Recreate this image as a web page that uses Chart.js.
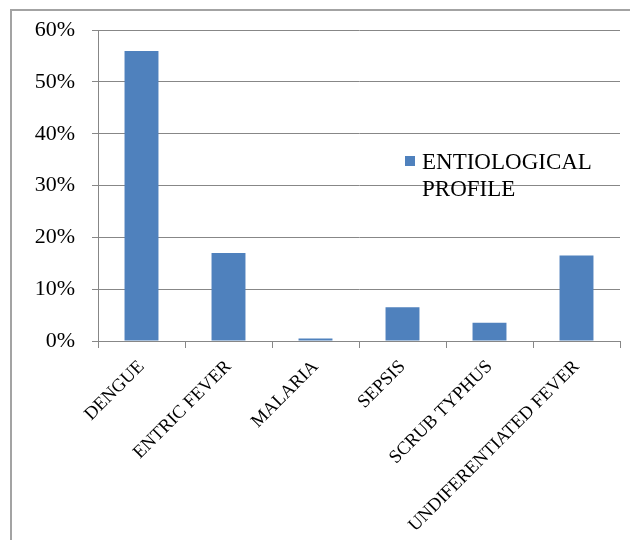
<!DOCTYPE html>
<html>
<head>
<meta charset="utf-8">
<script src="https://cdn.jsdelivr.net/npm/chart.js@4.4.1/dist/chart.umd.min.js"></script>
<style>
  html, body { margin: 0; padding: 0; background: #fff; overflow: hidden; }
  #wrap { position: relative; width: 630px; height: 540px; }
  #frame { position: absolute; left: 10px; top: 9px; width: 1000px; height: 1000px;
           border-left: 2px solid #a3a3a3; border-top: 2px solid #a3a3a3; box-sizing: border-box; }
  canvas { position: absolute; left: 0; top: 0; }
</style>
</head>
<body>
<div id="wrap">
  <div id="frame"></div>
  <canvas id="c" width="630" height="540"></canvas>
</div>
<script>
// Etiology of fever cases, share of patients (%)
const categories = ['DENGUE', 'ENTRIC FEVER', 'MALARIA', 'SEPSIS', 'SCRUB TYPHUS', 'UNDIFERENTIATED FEVER'];
const seriesName = 'ENTIOLOGICAL PROFILE';
const seriesValues = [56, 17, 0.5, 6.5, 3.5, 16.5];
const yTicks = [0, 10, 20, 30, 40, 50, 60];

const SERIF = "'Liberation Serif', 'Times New Roman', serif";
const BAR = '#4f81bd';
const GRID = '#878787';

// Legend drawn inside the plot area, wrapped over two lines
const insideLegend = {
  id: 'insideLegend',
  afterDraw(chart) {
    const ctx = chart.ctx;
    const ds = chart.data.datasets[0];
    const words = ds.label.split(' ');
    const x = 405, y = 156;
    ctx.save();
    ctx.fillStyle = ds.backgroundColor;
    ctx.fillRect(x, y, 10, 10);
    ctx.fillStyle = '#000';
    ctx.font = '23px ' + SERIF;
    ctx.textBaseline = 'alphabetic';
    ctx.textAlign = 'left';
    words.forEach((w, i) => ctx.fillText(w, x + 17, y + 13 + i * 27));
    ctx.restore();
  }
};

new Chart(document.getElementById('c'), {
  type: 'bar',
  data: {
    labels: categories,
    datasets: [{
      label: seriesName,
      data: seriesValues,
      backgroundColor: BAR,
      borderWidth: 0,
      categoryPercentage: 1,
      barPercentage: 0.39
    }]
  },
  options: {
    responsive: false,
    animation: false,
    layout: { padding: { left: 0, top: 30, right: 10, bottom: 0 } },
    plugins: { legend: { display: false }, tooltip: { enabled: false } },
    scales: {
      x: {
        offset: true,
        grid: { display: true, drawOnChartArea: false, color: GRID, tickLength: 7, lineWidth: 1 },
        border: { color: GRID, width: 1 },
        ticks: {
          color: '#000',
          font: { family: SERIF, size: 18.5 },
          minRotation: 45,
          maxRotation: 45,
          autoSkip: false,
          padding: 8
        },
        afterFit(scale) { scale.height = 199; }
      },
      y: {
        min: 0,
        max: 60,
        afterBuildTicks(scale) { scale.ticks = yTicks.map(v => ({ value: v })); },
        grid: { color: GRID, tickLength: 6, lineWidth: 1 },
        border: { color: GRID, width: 1 },
        ticks: {
          color: '#000',
          font: { family: SERIF, size: 22 },
          padding: 17,
          callback: v => v + '%'
        },
        afterFit(scale) { scale.width = 98; }
      }
    }
  },
  plugins: [insideLegend]
});
</script>
</body>
</html>
